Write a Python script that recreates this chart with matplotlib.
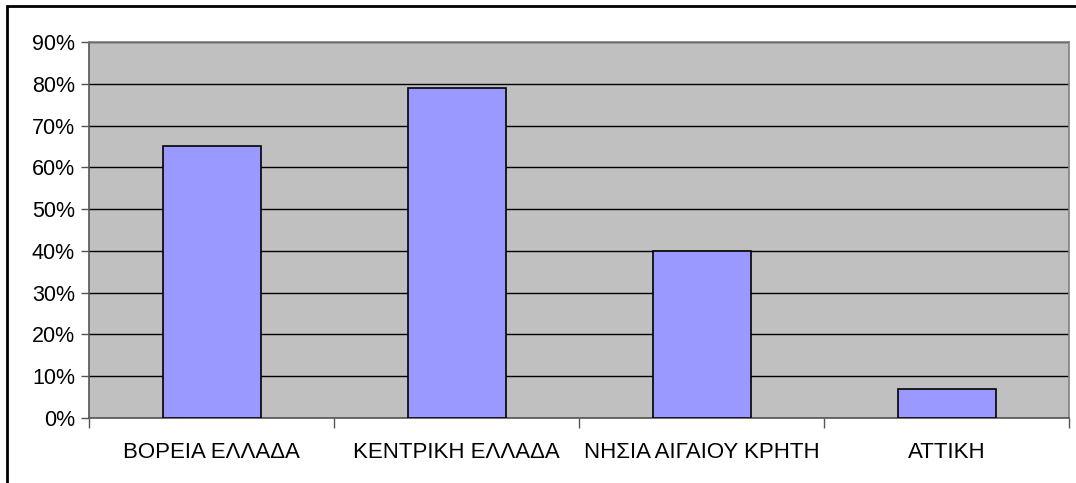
import matplotlib
matplotlib.use("Agg")
import matplotlib.pyplot as plt
from matplotlib.patches import Rectangle
from matplotlib.ticker import FixedLocator, PercentFormatter

plt.rcParams['font.family'] = ['Liberation Sans', 'DejaVu Sans']

# data
regions = ["ΒΟΡΕΙΑ ΕΛΛΑΔΑ", "ΚΕΝΤΡΙΚΗ ΕΛΛΑΔΑ", "ΝΗΣΙΑ ΑΙΓΑΙΟΥ ΚΡΗΤΗ", "ΑΤΤΙΚΗ"]
shares = [65, 79, 40, 7]
y_ticks = [0, 10, 20, 30, 40, 50, 60, 70, 80, 90]

W, H = 1076, 483
fig = plt.figure(figsize=(W / 100, H / 100), dpi=100)
fig.patches.append(Rectangle((7 / W, -0.05), 1.1, 1 - 6 / H + 0.05,
                             transform=fig.transFigure, fill=False,
                             edgecolor="black", linewidth=2))

ax = fig.add_axes([89 / W, 1 - 418 / H, (1069 - 89) / W, (418 - 42) / H])
ax.set_facecolor("#C0C0C0")

x = range(len(regions))
ax.bar(x, shares, width=0.4, color="#9999FF", edgecolor="black",
       linewidth=1.2, zorder=3)

ax.set_xlim(-0.5, len(regions) - 0.5)
ax.set_ylim(0, 90)
ax.set_yticks(y_ticks)
ax.yaxis.set_major_formatter(PercentFormatter(decimals=0))
ax.grid(axis="y", color="black", linewidth=1, zorder=1)

# category labels centred, ticks between categories
ax.set_xticks(list(x))
ax.set_xticklabels(regions)
ax.tick_params(axis="x", length=0, pad=17, labelsize=16)
ax.xaxis.set_minor_locator(FixedLocator([i + 0.5 for i in range(-1, len(regions))]))
ax.tick_params(axis="x", which="minor", length=7, width=1, color="#555555")
ax.tick_params(axis="y", length=6, width=1, color="#555555", labelsize=15.5, pad=4)

for side in ["top", "right", "left", "bottom"]:
    ax.spines[side].set_color("#808080")
    ax.spines[side].set_linewidth(1.2)
ax.spines["left"].set_color("#555555")
ax.spines["bottom"].set_color("#555555")

fig.savefig("out.png", dpi=100)
